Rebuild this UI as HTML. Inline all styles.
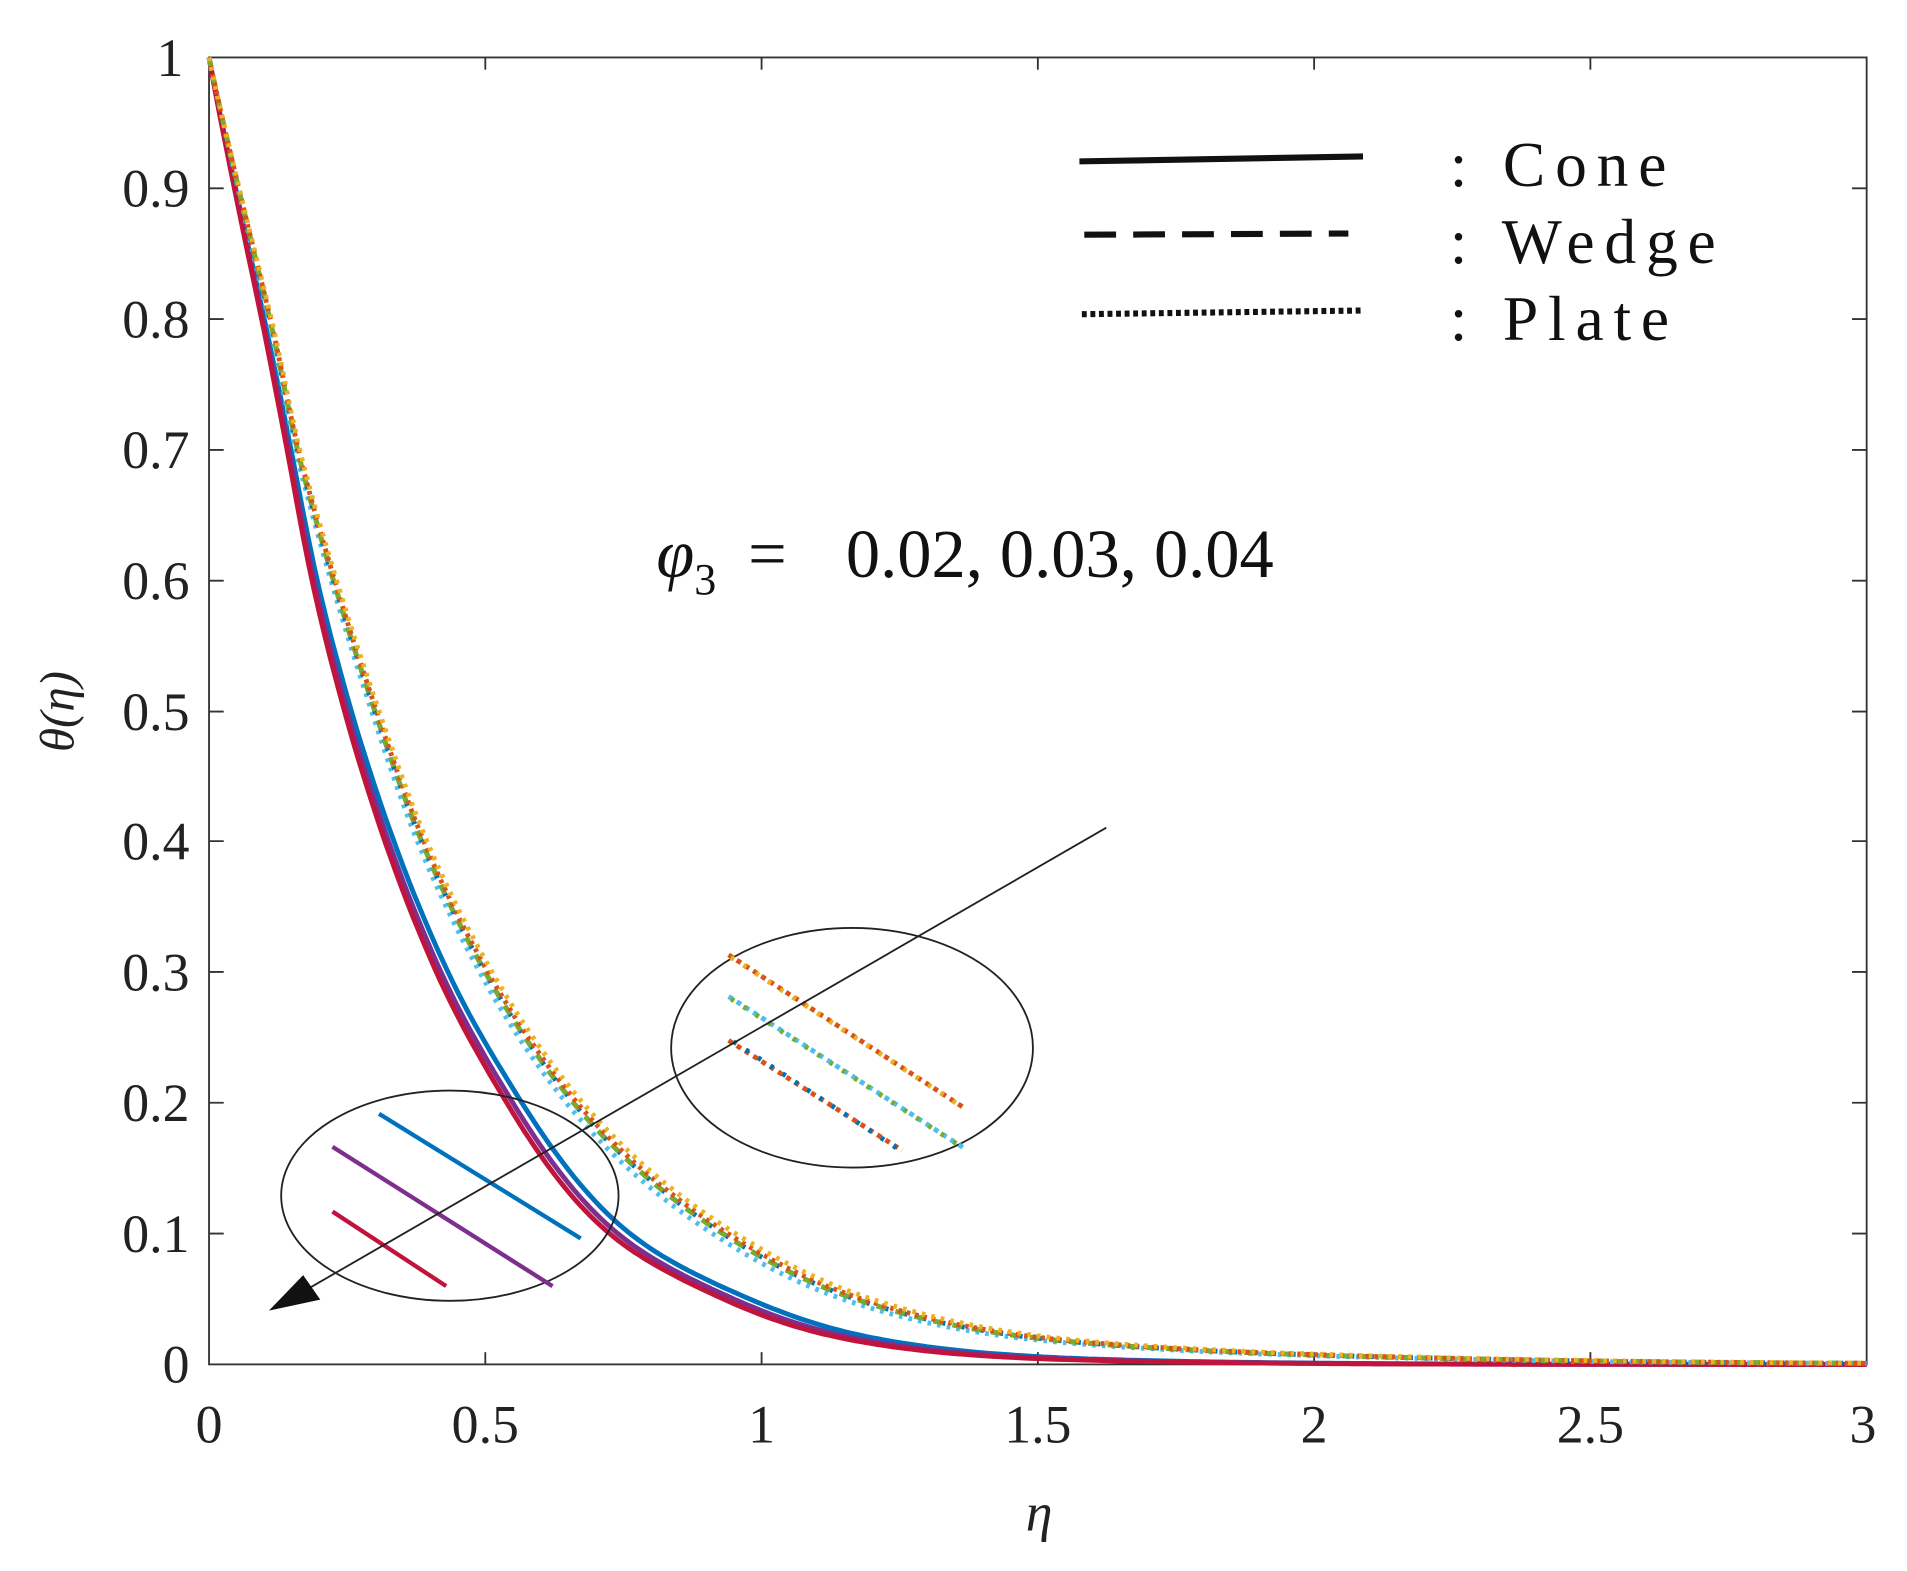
<!DOCTYPE html>
<html><head><style>body{margin:0;background:#fff}svg{display:block}</style></head><body>
<svg id="s" width="1907" height="1571" viewBox="0 0 1560 1285" preserveAspectRatio="none" xmlns="http://www.w3.org/2000/svg" font-family="Liberation Serif, serif">
<rect width="1560" height="1285" fill="#fff"/>
<rect x="171" y="47" width="1356" height="1069" fill="none" stroke="#333" stroke-width="1.5"/>
<g stroke="#333" stroke-width="1.5">
<line x1="397" y1="1116" x2="397" y2="1106"/><line x1="623" y1="1116" x2="623" y2="1106"/><line x1="849" y1="1116" x2="849" y2="1106"/><line x1="1075" y1="1116" x2="1075" y2="1106"/><line x1="1301" y1="1116" x2="1301" y2="1106"/>
<line x1="397" y1="47" x2="397" y2="57"/><line x1="623" y1="47" x2="623" y2="57"/><line x1="849" y1="47" x2="849" y2="57"/><line x1="1075" y1="47" x2="1075" y2="57"/><line x1="1301" y1="47" x2="1301" y2="57"/>
<path d="M171 1009h12M171 902h12M171 795h12M171 688h12M171 582h12M171 475h12M171 368h12M171 261h12M171 154h12M1527 1009h-12M1527 902h-12M1527 795h-12M1527 688h-12M1527 582h-12M1527 475h-12M1527 368h-12M1527 261h-12M1527 154h-12"/>
</g>
<g font-size="44" fill="#222" text-anchor="end">
<text x="155" y="1131">0</text><text x="155" y="1024">0.1</text><text x="155" y="917">0.2</text><text x="155" y="810">0.3</text><text x="155" y="703">0.4</text><text x="155" y="597">0.5</text><text x="155" y="490">0.6</text><text x="155" y="383">0.7</text><text x="155" y="276">0.8</text><text x="155" y="169">0.9</text><text x="150" y="62">1</text>
</g>
<g font-size="44" fill="#222" text-anchor="middle">
<text x="171" y="1180">0</text><text x="397" y="1180">0.5</text><text x="623" y="1180">1</text><text x="849" y="1180">1.5</text><text x="1075" y="1180">2</text><text x="1301" y="1180">2.5</text><text x="1524" y="1180">3</text>
<text x="850" y="1252" font-style="italic">η</text>
</g>
<text transform="translate(60 582) rotate(-90)" font-size="40" font-style="italic" text-anchor="middle" fill="#222">θ(η)</text>
<g id="curves" fill="none"></g>
<ellipse cx="368" cy="978" rx="138" ry="86" fill="none" stroke="#222" stroke-width="1.5"/>
<ellipse cx="697" cy="857" rx="148" ry="98" fill="none" stroke="#222" stroke-width="1.5"/>
<g stroke-width="3.5">
<line x1="310" y1="911" x2="475" y2="1013" stroke="#0072bd"/>
<line x1="272" y1="938" x2="452" y2="1052" stroke="#7e2f8e"/>
<line x1="272" y1="991" x2="365" y2="1052" stroke="#c0143c"/>
</g>
<g stroke-width="4" stroke-dasharray="4 4">
<line x1="596" y1="781" x2="790" y2="907" stroke="#d95319"/>
<line x1="598" y1="783" x2="788" y2="906" stroke="#edb120" stroke-dasharray="3 9"/>
<line x1="596" y1="815" x2="790" y2="940" stroke="#4dbeee"/>
<line x1="598" y1="817" x2="788" y2="939" stroke="#77ac30" stroke-dasharray="3 9"/>
<line x1="596" y1="851" x2="738" y2="941" stroke="#d95319"/>
<line x1="600" y1="852" x2="735" y2="940" stroke="#0072bd" stroke-dasharray="3 9"/>
</g>
<line x1="905" y1="677" x2="235" y2="1064" stroke="#222" stroke-width="1.5"/>
<path d="M220 1072 L262 1063 L248 1043 Z" fill="#111"/>
<g stroke="#111" stroke-width="5">
<line x1="883" y1="132" x2="1115" y2="128"/>
<line x1="887" y1="192" x2="1103" y2="191" stroke-dasharray="26 14"/>
<line x1="885" y1="257" x2="1113" y2="254" stroke-dasharray="4 3"/>
</g>
<g font-size="52" fill="#111" letter-spacing="8">
<text x="1186" y="152">: Cone</text>
<text x="1186" y="215">: Wedge</text>
<text x="1186" y="278">: Plate</text>
</g>
<text x="537" y="472" font-size="56" fill="#111"><tspan font-style="italic">φ</tspan><tspan font-size="36" dy="14">3</tspan><tspan dy="-14" x="612">=</tspan><tspan x="692">0.02, 0.03, 0.04</tspan></text>
</svg>
<script>
(function(){
var cone=[[0,1],[0.097,0.8],[0.144,0.7],[0.19,0.6],[0.25,0.5],[0.325,0.4],[0.42,0.3],[0.55,0.2],[0.74,0.1],[0.95,0.05],[1.17,0.02],[1.5,0.005],[2,0.0008],[3,0.00001]];
var plate=[[0,1],[0.11,0.8],[0.16,0.7],[0.225,0.6],[0.3,0.5],[0.385,0.4],[0.5,0.3],[0.66,0.2],[0.93,0.1],[1.17,0.05],[1.5,0.02],[1.83,0.01],[2.3,0.004],[3,0.0008]];
function interp(d,e){
 // log-theta catmull-rom on eta
 var n=d.length,xs=d.map(p=>p[0]),ys=d.map(p=>Math.log(p[1]));
 for(var i=0;i<n-1;i++){if(e<=xs[i+1]){
  var t=(e-xs[i])/(xs[i+1]-xs[i]);
  var h=xs[i+1]-xs[i];
  var m0=i>0?(ys[i+1]-ys[i-1])/(xs[i+1]-xs[i-1]):(ys[1]-ys[0])/(xs[1]-xs[0]);
  var m1=i<n-2?(ys[i+2]-ys[i])/(xs[i+2]-xs[i]):(ys[n-1]-ys[n-2])/(xs[n-1]-xs[n-2]);
  var t2=t*t,t3=t2*t;
  return Math.exp((2*t3-3*t2+1)*ys[i]+(t3-2*t2+t)*h*m0+(-2*t3+3*t2)*ys[i+1]+(t3-t2)*h*m1);
 }}
 return d[n-1][1];
}
function path(d,s){var p="";for(var e=0;e<=3.0001;e+=0.01){var th=interp(d,e/s);var x=171+e*452,y=1116-th*1069;p+=(p?"L":"M")+x.toFixed(1)+" "+y.toFixed(1);}return p;}
var g=document.getElementById("curves");
function add(d,s,c,w,da){var el=document.createElementNS("http://www.w3.org/2000/svg","path");el.setAttribute("d",path(d,s));el.setAttribute("stroke",c);el.setAttribute("stroke-width",w);if(da)el.setAttribute("stroke-dasharray",da);g.appendChild(el);}
add(cone,1.03,"#0072bd",4);
add(cone,1.0,"#7e2f8e",4);
add(cone,0.98,"#c0143c",4);
add(plate,0.98,"#4dbeee",4,"3 5");
add(plate,1.0,"#0072bd",4,"10 6");
add(plate,1.0,"#77ac30",4,"8 8");
add(plate,1.01,"#d95319",4,"3 4");
add(plate,1.025,"#edb120",4,"3 5");
})();
</script>
</body></html>
